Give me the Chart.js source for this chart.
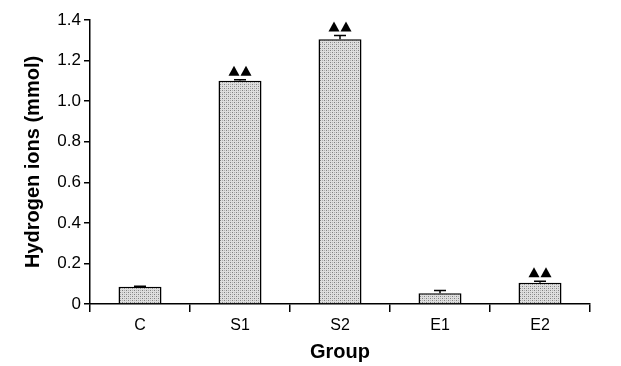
<!DOCTYPE html>
<html>
<head>
<meta charset="utf-8">
<script src="https://cdn.jsdelivr.net/npm/chart.js@4/dist/chart.umd.min.js"></script>
<style>
  html, body { margin: 0; padding: 0; background: #fff; }
  #wrap { width: 621px; height: 366px; }
</style>
</head>
<body>
<div id="wrap"><canvas id="chart"></canvas></div>
<script>
// data
const groups = ['C', 'S1', 'S2', 'E1', 'E2'];
const hydrogenIons = [0.085, 1.10, 1.305, 0.053, 0.105];
const errUpper = [0.003, 0.006, 0.018, 0.013, 0.007];
const marked = [false, true, true, false, true];   // ▲▲ significance marks
const yTicks = [0, 0.2, 0.4, 0.6, 0.8, 1.0, 1.2, 1.4];

// stippled grey fill like the print
function makeStipple() {
    const c = document.createElement('canvas');
    c.width = 4; c.height = 4;
    const g = c.getContext('2d');
    g.fillStyle = '#dedede';
    g.fillRect(0, 0, 4, 4);
    g.fillStyle = '#808080';
    g.fillRect(0, 0, 1, 1);
    g.fillRect(2, 2, 1, 1);
    g.fillStyle = '#b0b0b0';
    g.fillRect(2, 0, 1, 1);
    g.fillRect(0, 2, 1, 1);
    return g.createPattern(c, 'repeat');
}

// error bar caps + triangle marks, positioned from the bar elements
const extrasPlugin = {
    id: 'extras',
    afterDatasetsDraw(chart) {
        const ctx = chart.ctx;
        const y = chart.scales.y;
        const meta = chart.getDatasetMeta(0);
        ctx.save();
        ctx.strokeStyle = '#000';
        ctx.fillStyle = '#000';
        ctx.lineWidth = 1.5;
        meta.data.forEach((bar, i) => {
            const top = y.getPixelForValue(hydrogenIons[i]);
            const capY = y.getPixelForValue(hydrogenIons[i] + errUpper[i]);
            ctx.beginPath();
            ctx.moveTo(bar.x, top);
            ctx.lineTo(bar.x, capY);
            ctx.moveTo(bar.x - 6, capY);
            ctx.lineTo(bar.x + 6, capY);
            ctx.stroke();
            if (marked[i]) {
                const base = capY - 4;
                [-6, 6].forEach(dx => {
                    ctx.beginPath();
                    ctx.moveTo(bar.x + dx - 5.5, base);
                    ctx.lineTo(bar.x + dx + 5.5, base);
                    ctx.lineTo(bar.x + dx, base - 10);
                    ctx.closePath();
                    ctx.fill();
                });
            }
        });
        ctx.restore();
    }
};

new Chart(document.getElementById('chart'), {
    type: 'bar',
    data: {
        labels: groups,
        datasets: [{
            data: hydrogenIons,
            backgroundColor: makeStipple(),
            borderColor: '#000',
            borderWidth: 1.5,
            categoryPercentage: 1,
            barPercentage: 0.43
        }]
    },
    options: {
        responsive: true,
        maintainAspectRatio: false,
        animation: false,
        layout: { padding: { top: 20, right: 31, left: 17, bottom: 0 } },
        plugins: {
            legend: { display: false },
            tooltip: { enabled: false }
        },
        scales: {
            x: {
                grid: {
                    offset: true,
                    drawOnChartArea: false,
                    color: '#000',
                    lineWidth: 1.5,
                    tickLength: 8
                },
                border: { color: '#000', width: 1.5 },
                ticks: {
                    color: '#000',
                    font: { family: 'Liberation Sans', size: 16 },
                    padding: 4
                },
                title: {
                    display: true,
                    text: 'Group',
                    color: '#000',
                    font: { family: 'Liberation Sans', size: 20, weight: 'bold' },
                    padding: { top: 0, bottom: 2 }
                },
                afterFit(scale) { scale.height = 62; }
            },
            y: {
                min: 0,
                max: 1.4,
                afterBuildTicks(scale) {
                    scale.ticks = yTicks.map(v => ({ value: v }));
                },
                grid: {
                    drawOnChartArea: false,
                    color: '#000',
                    lineWidth: 1.5,
                    tickLength: 6
                },
                border: { color: '#000', width: 1.5 },
                ticks: {
                    color: '#000',
                    font: { family: 'Liberation Sans', size: 17 },
                    padding: 3,
                    callback: v => v === 0 ? '0' : v.toFixed(1)
                },
                title: {
                    display: true,
                    text: 'Hydrogen ions (mmol)',
                    color: '#000',
                    font: { family: 'Liberation Sans', size: 20, weight: 'bold' },
                    padding: { top: 4, bottom: 0 }
                },
                afterFit(scale) { scale.width = 73; }
            }
        }
    },
    plugins: [extrasPlugin]
});
</script>
</body>
</html>
